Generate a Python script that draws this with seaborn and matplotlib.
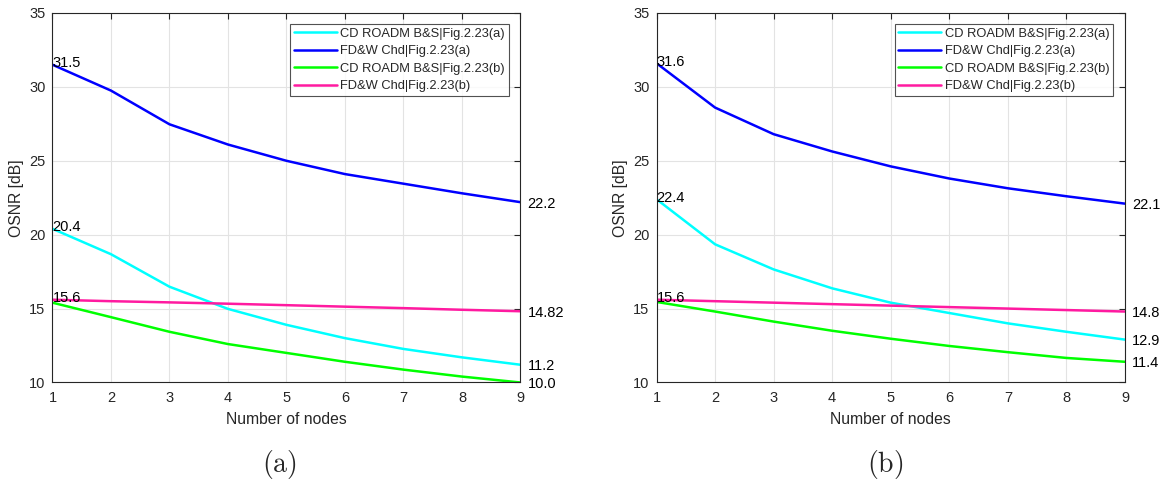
import matplotlib
matplotlib.use("Agg")
import matplotlib.pyplot as plt
import seaborn as sns
import pandas as pd

nodes = [1, 2, 3, 4, 5, 6, 7, 8, 9]

series_labels = ["CD ROADM B&S|Fig.2.23(a)", "FD&W Chd|Fig.2.23(a)",
                 "CD ROADM B&S|Fig.2.23(b)", "FD&W Chd|Fig.2.23(b)"]
series_colors = ["#00ffff", "#0000ff", "#00ff00", "#ff1aa0"]

# panel (a)
a_cd_a = [20.4, 18.68, 16.48, 14.98, 13.9, 13.0, 12.27, 11.7, 11.2]
a_fd_a = [31.5, 29.75, 27.47, 26.1, 25.0, 24.1, 23.45, 22.8, 22.2]
a_cd_b = [15.4, 14.42, 13.43, 12.6, 12.0, 11.4, 10.87, 10.4, 10.0]
a_fd_b = [15.6, 15.5, 15.42, 15.33, 15.23, 15.13, 15.03, 14.92, 14.82]

# panel (b)
b_cd_a = [22.4, 19.35, 17.65, 16.37, 15.4, 14.7, 14.0, 13.43, 12.9]
b_fd_a = [31.6, 28.6, 26.8, 25.63, 24.62, 23.8, 23.14, 22.6, 22.1]
b_cd_b = [15.45, 14.8, 14.12, 13.5, 12.96, 12.47, 12.05, 11.66, 11.4]
b_fd_b = [15.6, 15.5, 15.4, 15.3, 15.2, 15.1, 15.0, 14.9, 14.8]

a_start_labels = [("20.4", 20.4), ("31.5", 31.5), ("15.6", 15.6)]
a_end_labels = [("11.2", 11.2), ("22.2", 22.2), ("10.0", 10.0), ("14.82", 14.82)]
b_start_labels = [("22.4", 22.4), ("31.6", 31.6), ("15.6", 15.6)]
b_end_labels = [("12.9", 12.9), ("22.1", 22.1), ("11.4", 11.4), ("14.8", 14.8)]

x_ticks = [1, 2, 3, 4, 5, 6, 7, 8, 9]
y_ticks = [10, 15, 20, 25, 30, 35]
captions = ["(a)", "(b)"]

sns.set_style("white")
plt.rcParams["font.family"] = ["Liberation Sans", "DejaVu Sans"]
plt.rcParams["mathtext.fontset"] = "cm"

fig = plt.figure(figsize=(11.63, 4.79), dpi=100)
axA = fig.add_axes([0.0451, 0.2015, 0.4024, 0.7714])
axB = fig.add_axes([0.5645, 0.2015, 0.4028, 0.7714])

dark = "#262626"

def draw(ax, data, start_labels, end_labels, caption, cap_x):
    for vals, lab, col in zip(data, series_labels, series_colors):
        df = pd.DataFrame({"x": nodes, "y": vals})
        sns.lineplot(data=df, x="x", y="y", ax=ax, color=col, lw=1.8, label=lab)
    ax.set_xlim(1, 9)
    ax.set_ylim(10, 35)
    ax.set_xticks(x_ticks)
    ax.set_yticks(y_ticks)
    ax.grid(True, color="#e3e3e3", lw=0.8)
    ax.set_axisbelow(True)
    for s in ax.spines.values():
        s.set_color(dark)
        s.set_linewidth(0.8)
        s.set_visible(True)
    ax.tick_params(direction="in", length=4, width=0.8, color=dark,
                   labelcolor=dark, labelsize=10.5, top=True, right=True)
    ax.tick_params(axis="x", pad=6)
    ax.tick_params(axis="y", pad=5)
    ax.set_xlabel("Number of nodes", fontsize=11.3, color=dark)
    ax.set_ylabel("OSNR [dB]", fontsize=11.3, color=dark)
    ax.xaxis.set_label_coords(0.5, -0.1015)
    ax.xaxis.label.set_verticalalignment("center")
    ax.yaxis.set_label_coords(-0.077, 0.5)
    ax.yaxis.label.set_verticalalignment("center")
    for txt, yv in start_labels:
        ax.text(nodes[0], yv + 0.1, txt, ha="left", va="center", fontsize=10.5, color="black")
    for txt, yv in end_labels:
        ax.annotate(txt, xy=(nodes[-1], yv), xytext=(5, -1), textcoords="offset points",
                    ha="left", va="center", fontsize=10.5, color="black", annotation_clip=False)
    leg = ax.legend(loc="upper right", bbox_to_anchor=(0.9754, 0.970), borderaxespad=0,
                    fontsize=9.3, frameon=True, fancybox=False, handlelength=3.3,
                    handletextpad=0.3, labelspacing=0.42, borderpad=0.3)
    leg.get_frame().set_edgecolor(dark)
    leg.get_frame().set_linewidth(0.8)
    for t in leg.get_texts():
        t.set_color(dark)
    fig.text(cap_x, 0.0313, r"$\mathrm{" + caption + "}$", ha="center", va="center", fontsize=20)

draw(axA, [a_cd_a, a_fd_a, a_cd_b, a_fd_b], a_start_labels, a_end_labels, captions[0], 0.2404)
draw(axB, [b_cd_a, b_fd_a, b_cd_b, b_fd_b], b_start_labels, b_end_labels, captions[1], 0.761)

fig.savefig("out.png", dpi=100)
